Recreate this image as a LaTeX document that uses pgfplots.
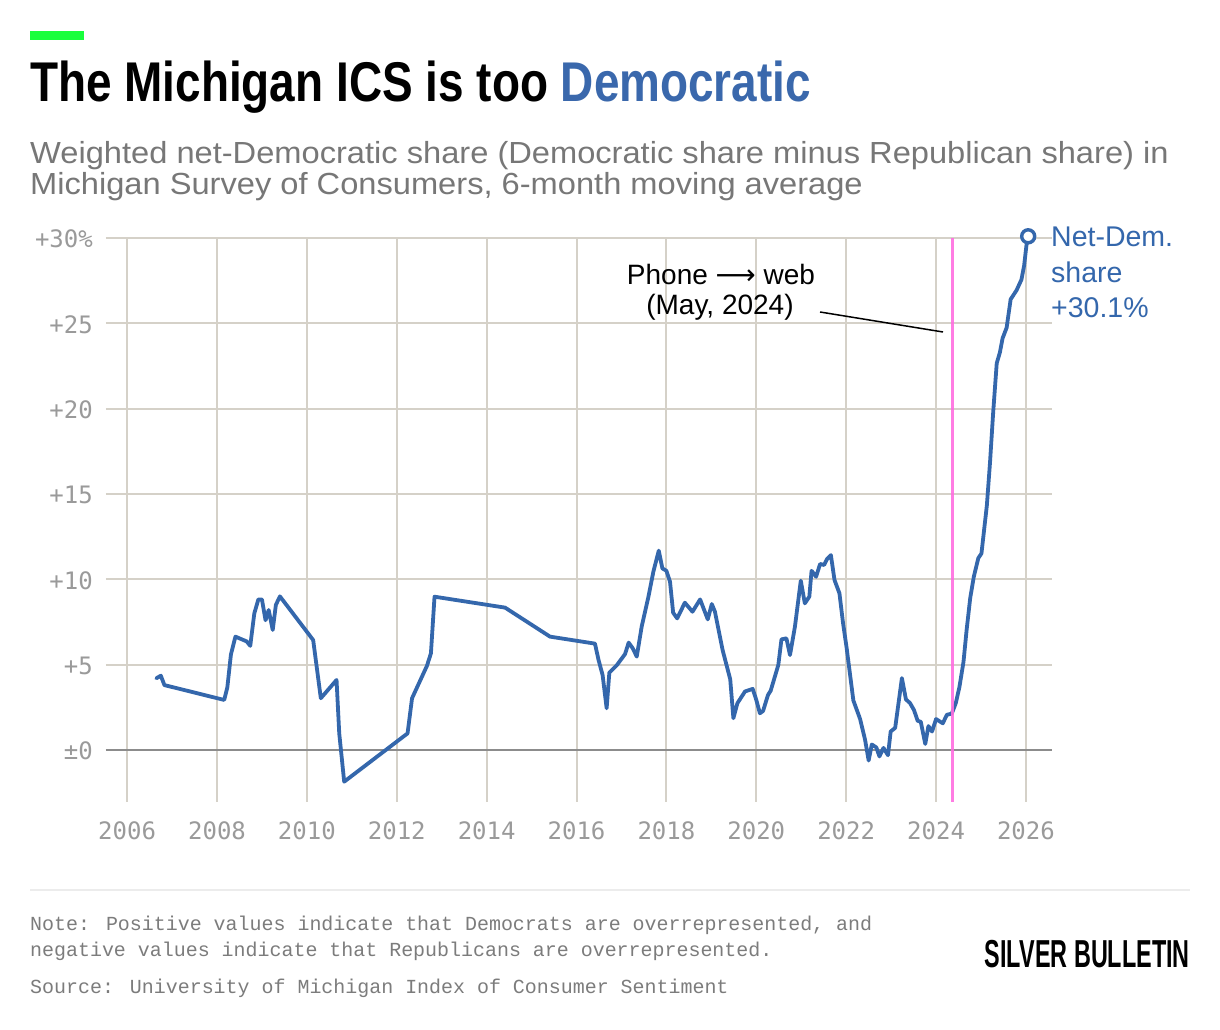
\documentclass[border=0pt]{standalone}
\usepackage{fontspec}
\usepackage{pgfplots}
\pgfplotsset{compat=1.18}
\setmainfont{Liberation Sans}
\newfontfamily\titlefont{Liberation Sans}[FakeStretch=0.82]
\newfontfamily\subfont{Liberation Sans}[FakeStretch=1.07]
\newfontfamily\logofont{Liberation Sans}[FakeStretch=0.6]
\newfontfamily\monofont{DejaVu Sans Mono}
\newfontfamily\notefont{Liberation Mono}
\newfontfamily\dejavu{DejaVu Sans}
\definecolor{blueline}{HTML}{3467AC}
\definecolor{titleblue}{HTML}{3A68AC}
\definecolor{gridc}{HTML}{D5D1C8}
\definecolor{zeroc}{HTML}{8C8C8C}
\definecolor{tickc}{HTML}{9A9A9A}
\definecolor{subc}{HTML}{777777}
\definecolor{notec}{HTML}{7C7C7C}
\definecolor{pinkc}{HTML}{FF6EE0}
\definecolor{greenc}{HTML}{19FF3C}
\definecolor{sepc}{HTML}{ECECEC}
\pgfplotstableread{
x y
2006.65 4.20
2006.75 4.35
2006.83 3.80
2008.16 2.93
2008.23 3.67
2008.31 5.60
2008.41 6.64
2008.66 6.36
2008.74 6.10
2008.83 8.00
2008.92 8.82
2009.00 8.82
2009.08 7.60
2009.15 8.20
2009.24 7.03
2009.31 8.50
2009.40 9.00
2010.14 6.44
2010.31 3.03
2010.66 4.10
2010.72 0.97
2010.83 -1.86
2012.24 0.97
2012.34 3.03
2012.67 4.92
2012.76 5.66
2012.84 8.98
2014.41 8.34
2015.41 6.64
2016.41 6.23
2016.49 5.27
2016.58 4.39
2016.67 2.44
2016.73 4.53
2016.90 4.98
2017.08 5.62
2017.16 6.29
2017.25 5.96
2017.34 5.47
2017.45 7.23
2017.60 8.98
2017.71 10.45
2017.83 11.68
2017.91 10.64
2018.00 10.50
2018.08 9.86
2018.15 8.04
2018.24 7.71
2018.41 8.63
2018.58 8.10
2018.75 8.82
2018.92 7.65
2019.01 8.55
2019.08 8.10
2019.25 5.86
2019.42 4.14
2019.49 1.86
2019.58 2.74
2019.75 3.43
2019.92 3.58
2020.00 2.93
2020.08 2.15
2020.15 2.28
2020.26 3.22
2020.32 3.47
2020.49 4.98
2020.56 6.48
2020.67 6.54
2020.75 5.56
2020.86 7.23
2020.99 9.92
2021.08 8.59
2021.18 8.98
2021.23 10.50
2021.33 10.15
2021.42 10.90
2021.51 10.84
2021.57 11.17
2021.66 11.42
2021.74 9.96
2021.85 9.18
2021.93 7.44
2022.01 5.98
2022.16 2.90
2022.31 1.81
2022.42 0.60
2022.50 -0.62
2022.57 0.32
2022.67 0.15
2022.74 -0.38
2022.83 0.12
2022.93 -0.31
2022.99 1.08
2023.09 1.29
2023.24 4.21
2023.33 2.96
2023.42 2.75
2023.51 2.33
2023.59 1.71
2023.66 1.65
2023.76 0.35
2023.83 1.40
2023.91 1.08
2024.00 1.81
2024.15 1.56
2024.24 2.06
2024.35 2.13
2024.44 2.75
2024.52 3.69
2024.61 5.15
2024.68 7.03
2024.76 8.90
2024.84 10.15
2024.94 11.24
2025.01 11.51
2025.13 14.32
2025.20 16.82
2025.27 19.74
2025.35 22.66
2025.42 23.29
2025.48 24.12
2025.57 24.74
2025.66 26.41
2025.79 26.93
2025.90 27.56
2025.96 28.39
2026.01 29.54
2026.05 30.10
}\netdem
\begin{document}
\begin{tikzpicture}
\useasboundingbox (0,0) rectangle (1220bp,1030bp);
\fill[white] (0,0) rectangle (1220bp,1030bp);
% header
\fill[greenc] (30bp,990bp) rectangle (84bp,999bp);
\node[anchor=base west, inner sep=0pt] at (30bp,928bp) {\titlefont\bfseries\fontsize{56bp}{60bp}\selectfont The Michigan ICS is too \textcolor{titleblue}{Democratic}};
\node[anchor=base west, inner sep=0pt, text=subc] at (30bp,866bp) {\subfont\fontsize{30.5bp}{31bp}\selectfont Weighted net-Democratic share (Democratic share minus Republican share) in};
\node[anchor=base west, inner sep=0pt, text=subc] at (30bp,835bp) {\subfont\fontsize{30.5bp}{31bp}\selectfont Michigan Survey of Consumers, 6-month moving average};
\begin{axis}[
  at={(106bp,228bp)}, anchor=south west,
  scale only axis, width=946bp, height=564bp,
  xmin=2005.53, xmax=2026.58, ymin=-3.05, ymax=30,
  axis line style={draw=none},
  major tick length=0pt,
  xtick={2006,2008,...,2026},
  xticklabels={2006,2008,2010,2012,2014,2016,2018,2020,2022,2024,2026},
  ytick={0,5,10,15,20,25,30},
  yticklabels={±0,+5,+10,+15,+20,+25,+30\%},
  grid=major,
  major grid style={draw=gridc, line width=2bp},
  tick label style={font=\monofont\fontsize{24bp}{24bp}\selectfont, text=tickc, inner sep=0pt},
  xticklabel style={anchor=base, yshift=-38bp},
  yticklabel style={anchor=base east, xshift=-13bp, yshift=-10bp},
  clip=false,
]
\addplot[zeroc, line width=2bp] coordinates {(2005.53,0) (2026.58,0)};
\addplot[blueline, line width=3.8bp, line join=round, line cap=round] table[x=x,y=y] {\netdem};
\addplot[pinkc, line width=3.5bp, opacity=0.9] coordinates {(2024.37,-3.05) (2024.37,30)};
\addplot[only marks, mark=*, mark size=6.5bp, mark options={fill=white, draw=blueline, line width=3.4bp}] coordinates {(2026.05,30.1)};
\end{axis}
% annotation
\draw[black, line width=1.5bp] (820bp,718bp) -- (943bp,698bp);
\node[anchor=base, inner sep=0pt] at (721bp,745bp) {\fontsize{28bp}{30bp}\selectfont Phone {\dejavu ⟶} web};
\node[anchor=base, inner sep=0pt] at (720bp,715bp) {\fontsize{28bp}{30bp}\selectfont (May, 2024)};
\node[anchor=base west, inner sep=0pt, text=blueline] at (1051bp,783bp) {\fontsize{28.5bp}{30bp}\selectfont Net-Dem.};
\node[anchor=base west, inner sep=0pt, text=blueline] at (1051bp,747bp) {\fontsize{28.5bp}{30bp}\selectfont share};
\node[anchor=base west, inner sep=0pt, text=blueline] at (1051bp,712bp) {\fontsize{28.5bp}{30bp}\selectfont +30.1\%};
% footer
\draw[sepc, line width=2bp] (30bp,140bp) -- (1190bp,140bp);
\node[anchor=base west, inner sep=0pt, text=notec] at (30bp,99bp) {\notefont\fontsize{19.95bp}{20bp}\selectfont Note: Positive values indicate that Democrats are overrepresented, and};
\node[anchor=base west, inner sep=0pt, text=notec] at (30bp,73bp) {\notefont\fontsize{19.95bp}{20bp}\selectfont negative values indicate that Republicans are overrepresented.};
\node[anchor=base west, inner sep=0pt, text=notec] at (30bp,37bp) {\notefont\fontsize{19.95bp}{20bp}\selectfont Source: University of Michigan Index of Consumer Sentiment};
\node[anchor=base east, inner sep=0pt] at (1190bp,62bp) {\logofont\bfseries\fontsize{39bp}{40bp}\selectfont SILVER BULLETIN};
\end{tikzpicture}
\end{document}
